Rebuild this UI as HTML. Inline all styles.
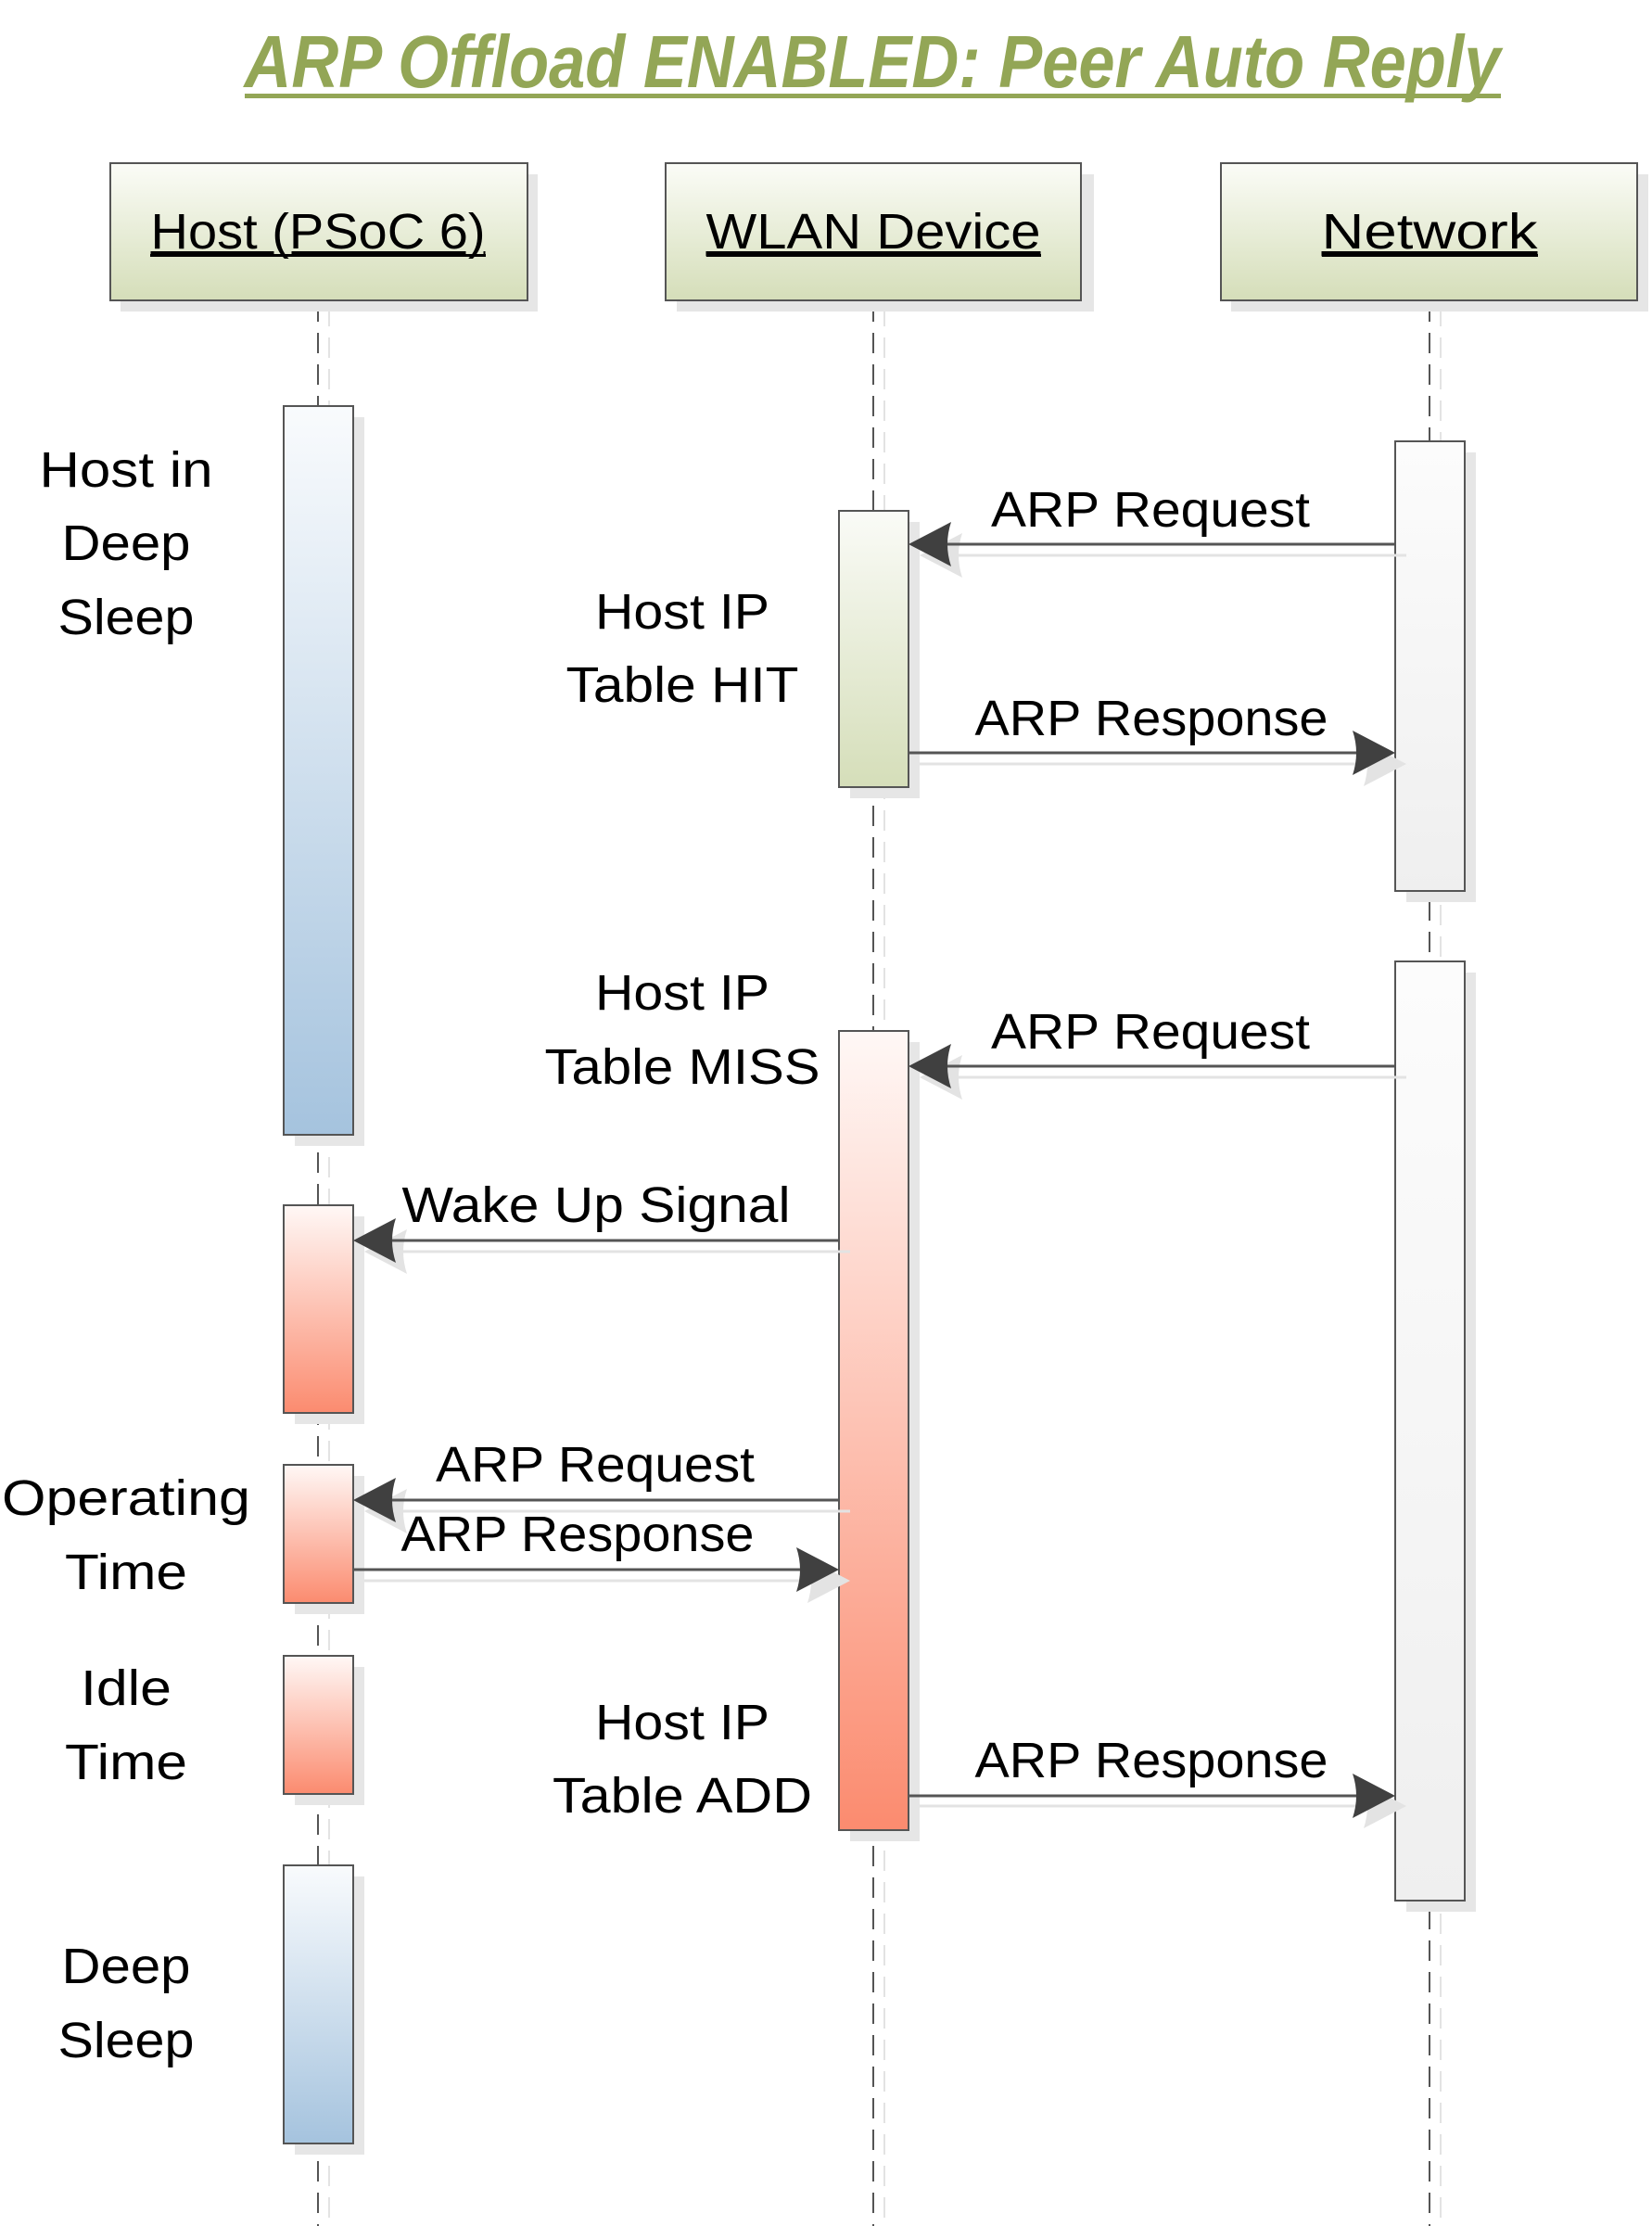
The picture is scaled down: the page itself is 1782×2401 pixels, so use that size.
<!DOCTYPE html>
<html><head><meta charset="utf-8"><style>html,body{margin:0;padding:0;background:#fff}svg{display:block}</style></head>
<body>
<svg width="1782" height="2401" viewBox="0 0 1782 2401" xmlns="http://www.w3.org/2000/svg" font-family="Liberation Sans, sans-serif">
<defs>
<linearGradient id="hdr" x1="0" y1="0" x2="0" y2="1"><stop offset="0" stop-color="#fbfcf7"/><stop offset="1" stop-color="#d5deb9"/></linearGradient>
<linearGradient id="blue" x1="0" y1="0" x2="0" y2="1"><stop offset="0" stop-color="#f9fbfd"/><stop offset="1" stop-color="#a5c3de"/></linearGradient>
<linearGradient id="red" x1="0" y1="0" x2="0" y2="1"><stop offset="0" stop-color="#fff8f6"/><stop offset="1" stop-color="#fb8b6f"/></linearGradient>
<linearGradient id="grn" x1="0" y1="0" x2="0" y2="1"><stop offset="0" stop-color="#fafbf7"/><stop offset="1" stop-color="#d5deb9"/></linearGradient>
<linearGradient id="gry" x1="0" y1="0" x2="0" y2="1"><stop offset="0" stop-color="#fcfcfc"/><stop offset="1" stop-color="#efefef"/></linearGradient>
</defs>

<!-- title -->
<text x="941" y="94" text-anchor="middle" font-size="80" font-weight="bold" font-style="italic" fill="#93a656" textLength="1355" lengthAdjust="spacingAndGlyphs">ARP Offload ENABLED: Peer Auto Reply</text>
<rect x="264" y="101" width="1355" height="5" fill="#93a656"/>

<!-- lifelines -->
<g stroke-width="2" stroke-dasharray="22,12">
<line x1="355" y1="330" x2="355" y2="2401" stroke="#e3e3e3"/>
<line x1="954" y1="330" x2="954" y2="2401" stroke="#e3e3e3"/>
<line x1="1554" y1="330" x2="1554" y2="2401" stroke="#e3e3e3"/>
<line x1="343" y1="325" x2="343" y2="2401" stroke="#555"/>
<line x1="942" y1="325" x2="942" y2="2401" stroke="#555"/>
<line x1="1542" y1="325" x2="1542" y2="2401" stroke="#555"/>
</g>

<!-- headers -->
<g>
<rect x="130" y="188" width="450" height="148" fill="#e6e6e6"/>
<rect x="730" y="188" width="450" height="148" fill="#e6e6e6"/>
<rect x="1328" y="188" width="450" height="148" fill="#e6e6e6"/>
<rect x="119" y="176" width="450" height="148" fill="url(#hdr)" stroke="#555" stroke-width="2"/>
<rect x="718" y="176" width="448" height="148" fill="url(#hdr)" stroke="#555" stroke-width="2"/>
<rect x="1317" y="176" width="449" height="148" fill="url(#hdr)" stroke="#555" stroke-width="2"/>
</g>
<g font-size="54" fill="#000" text-anchor="middle" text-decoration="underline">
<text x="343" y="268" textLength="361" lengthAdjust="spacingAndGlyphs">Host (PSoC 6)</text>
<text x="942" y="268" textLength="361" lengthAdjust="spacingAndGlyphs">WLAN Device</text>
<text x="1542" y="268" textLength="233" lengthAdjust="spacingAndGlyphs">Network</text>
</g>
<g fill="#000"><rect x="162" y="274" width="362" height="3"/><rect x="762" y="274" width="361" height="3"/><rect x="1426" y="274" width="233" height="3"/></g>

<!-- activation bars shadows -->
<g fill="#e6e6e6">
<rect x="318" y="450" width="75" height="786"/>
<rect x="917" y="563" width="75" height="298"/>
<rect x="1517" y="488" width="75" height="485"/>
<rect x="1517" y="1049" width="75" height="1013"/>
<rect x="917" y="1124" width="75" height="862"/>
<rect x="318" y="1312" width="75" height="224"/>
<rect x="318" y="1592" width="75" height="149"/>
<rect x="318" y="1798" width="75" height="149"/>
<rect x="318" y="2024" width="75" height="300"/>
</g>
<g stroke="#555" stroke-width="2">
<rect x="306" y="438" width="75" height="786" fill="url(#blue)"/>
<rect x="905" y="551" width="75" height="298" fill="url(#grn)"/>
<rect x="1505" y="476" width="75" height="485" fill="url(#gry)"/>
<rect x="1505" y="1037" width="75" height="1013" fill="url(#gry)"/>
<rect x="905" y="1112" width="75" height="862" fill="url(#red)"/>
<rect x="306" y="1300" width="75" height="224" fill="url(#red)"/>
<rect x="306" y="1580" width="75" height="149" fill="url(#red)"/>
<rect x="306" y="1786" width="75" height="149" fill="url(#red)"/>
<rect x="306" y="2012" width="75" height="300" fill="url(#blue)"/>
</g>

<!-- messages: shadows -->
<g stroke="#e3e3e3" stroke-width="3" fill="#e3e3e3">
<line x1="1517" y1="599" x2="1000" y2="599"/><path d="M992 599 L1038 575 Q1030 599 1038 623 Z" stroke="none"/>
<line x1="992" y1="824" x2="1510" y2="824"/><path d="M1517 824 L1471 800 Q1479 824 1471 848 Z" stroke="none"/>
<line x1="1517" y1="1162" x2="1000" y2="1162"/><path d="M992 1162 L1038 1138 Q1030 1162 1038 1186 Z" stroke="none"/>
<line x1="917" y1="1350" x2="400" y2="1350"/><path d="M393 1350 L439 1326 Q431 1350 439 1374 Z" stroke="none"/>
<line x1="917" y1="1630" x2="400" y2="1630"/><path d="M393 1630 L439 1606 Q431 1630 439 1654 Z" stroke="none"/>
<line x1="393" y1="1705" x2="910" y2="1705"/><path d="M917 1705 L871 1681 Q879 1705 871 1729 Z" stroke="none"/>
<line x1="992" y1="1948" x2="1510" y2="1948"/><path d="M1517 1948 L1471 1924 Q1479 1948 1471 1972 Z" stroke="none"/>
</g>
<g stroke="#555" stroke-width="3" fill="#404040">
<line x1="1505" y1="587" x2="1000" y2="587"/><path d="M980 587 L1026 563 Q1018 587 1026 611 Z" stroke="none"/>
<line x1="980" y1="812" x2="1490" y2="812"/><path d="M1505 812 L1459 788 Q1467 812 1459 836 Z" stroke="none"/>
<line x1="1505" y1="1150" x2="1000" y2="1150"/><path d="M980 1150 L1026 1126 Q1018 1150 1026 1174 Z" stroke="none"/>
<line x1="905" y1="1338" x2="400" y2="1338"/><path d="M381 1338 L427 1314 Q419 1338 427 1362 Z" stroke="none"/>
<line x1="905" y1="1618" x2="400" y2="1618"/><path d="M381 1618 L427 1594 Q419 1618 427 1642 Z" stroke="none"/>
<line x1="381" y1="1693" x2="890" y2="1693"/><path d="M905 1693 L859 1669 Q867 1693 859 1717 Z" stroke="none"/>
<line x1="980" y1="1937" x2="1490" y2="1937"/><path d="M1505 1937 L1459 1913 Q1467 1937 1459 1961 Z" stroke="none"/>
</g>

<!-- labels -->
<g font-size="54" fill="#000" text-anchor="middle" lengthAdjust="spacingAndGlyphs">
<text x="1241" y="568" textLength="344" lengthAdjust="spacingAndGlyphs">ARP Request</text>
<text x="1242" y="793" textLength="381" lengthAdjust="spacingAndGlyphs">ARP Response</text>
<text x="1241" y="1131" textLength="344" lengthAdjust="spacingAndGlyphs">ARP Request</text>
<text x="643" y="1318" textLength="419" lengthAdjust="spacingAndGlyphs">Wake Up Signal</text>
<text x="642" y="1598" textLength="344" lengthAdjust="spacingAndGlyphs">ARP Request</text>
<text x="623" y="1673" textLength="381" lengthAdjust="spacingAndGlyphs">ARP Response</text>
<text x="1242" y="1917" textLength="381" lengthAdjust="spacingAndGlyphs">ARP Response</text>

<text x="136" y="525" textLength="187" lengthAdjust="spacingAndGlyphs">Host in</text>
<text x="136" y="604" textLength="139" lengthAdjust="spacingAndGlyphs">Deep</text>
<text x="136" y="684" textLength="147" lengthAdjust="spacingAndGlyphs">Sleep</text>

<text x="736" y="678" textLength="188" lengthAdjust="spacingAndGlyphs">Host IP</text>
<text x="736" y="757" textLength="251" lengthAdjust="spacingAndGlyphs">Table HIT</text>
<text x="736" y="1089" textLength="188" lengthAdjust="spacingAndGlyphs">Host IP</text>
<text x="736" y="1169" textLength="297" lengthAdjust="spacingAndGlyphs">Table MISS</text>

<text x="136" y="1634" textLength="268" lengthAdjust="spacingAndGlyphs">Operating</text>
<text x="136" y="1714" textLength="132" lengthAdjust="spacingAndGlyphs">Time</text>
<text x="136" y="1839" textLength="98" lengthAdjust="spacingAndGlyphs">Idle</text>
<text x="136" y="1919" textLength="132" lengthAdjust="spacingAndGlyphs">Time</text>

<text x="736" y="1876" textLength="188" lengthAdjust="spacingAndGlyphs">Host IP</text>
<text x="736" y="1955" textLength="280" lengthAdjust="spacingAndGlyphs">Table ADD</text>

<text x="136" y="2139" textLength="139" lengthAdjust="spacingAndGlyphs">Deep</text>
<text x="136" y="2219" textLength="147" lengthAdjust="spacingAndGlyphs">Sleep</text>
</g>
</svg>
</body></html>
